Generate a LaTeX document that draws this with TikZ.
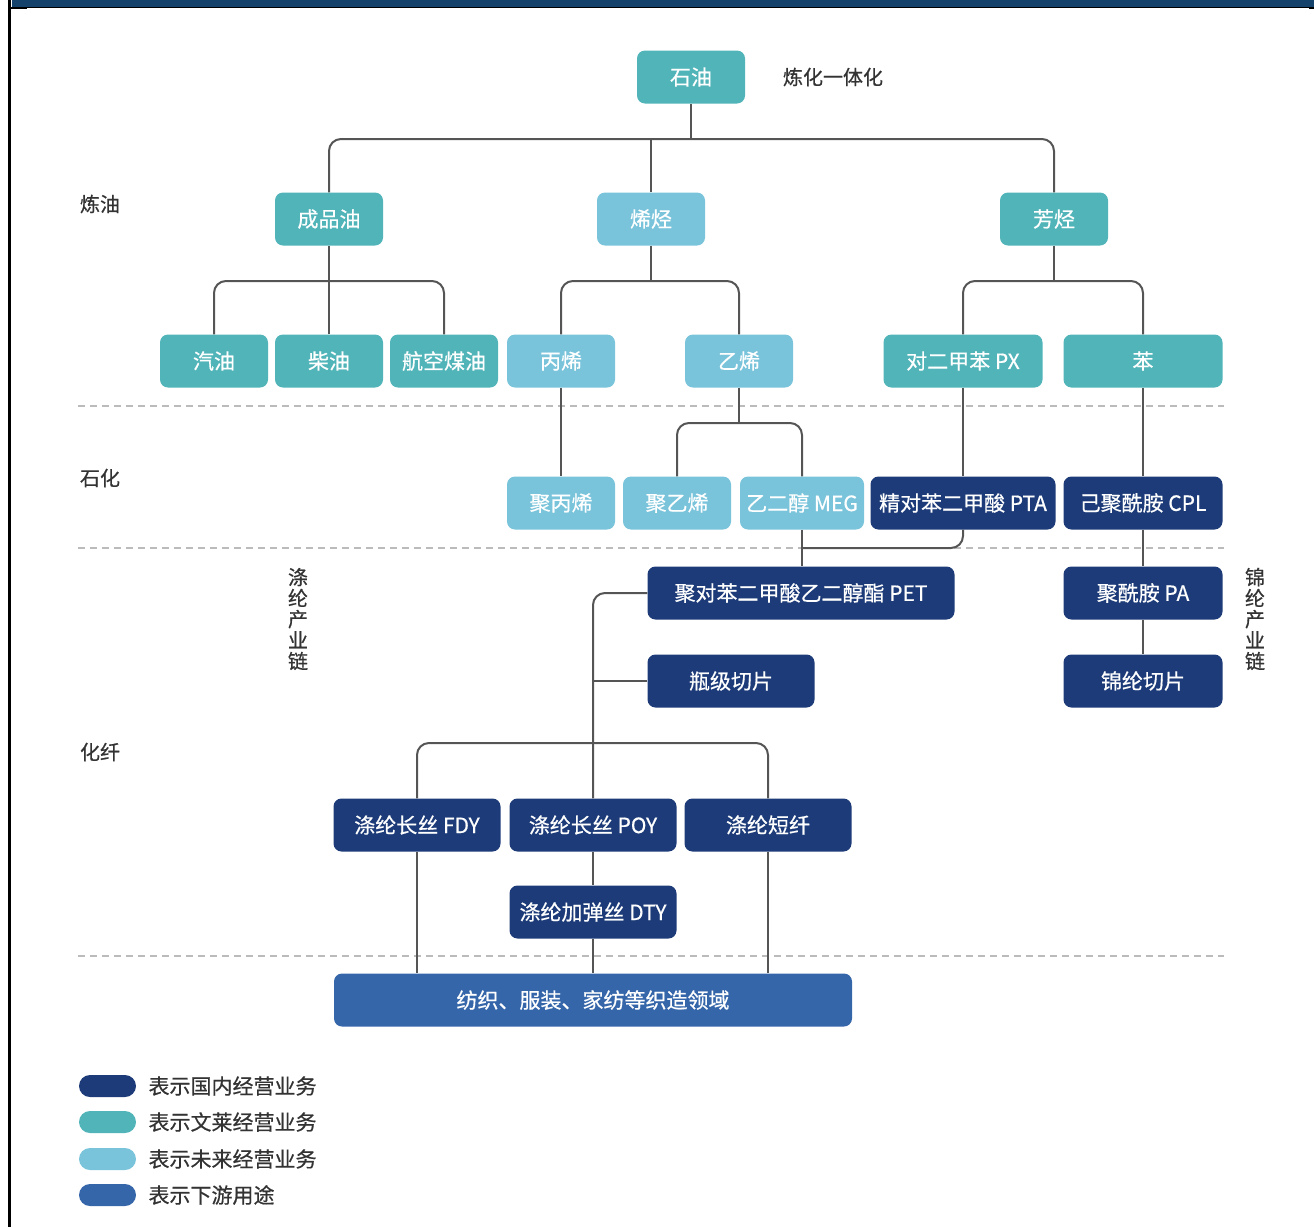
\documentclass[tikz,border=0pt]{standalone}
\usepackage{fontspec}
\setmainfont{Noto Sans CJK SC}
\newfontfamily\medfont[FakeBold=0.6]{Noto Sans CJK SC}

\definecolor{bandblue}{HTML}{15426B}
\definecolor{guonei}{HTML}{1C3B78}
\definecolor{wenlai}{HTML}{50B4B9}
\definecolor{weilai}{HTML}{7AC4DB}
\definecolor{xiayou}{HTML}{3566AA}
\definecolor{linegray}{HTML}{555555}
\definecolor{dashgray}{HTML}{BBBBBB}
\definecolor{labelgray}{HTML}{333333}

\tikzset{
  box/.style={rounded corners=8pt,text=white,minimum height=53pt,inner sep=0pt,font=\medfont\fontsize{21}{24}\selectfont},
  guoneibox/.style={box,fill=guonei},
  wenlaibox/.style={box,fill=wenlai},
  weilaibox/.style={box,fill=weilai},
  xiayoubox/.style={box,fill=xiayou},
  link/.style={draw=linegray,line width=2pt},
  bus/.style={link,rounded corners=12pt},
  sep/.style={draw=dashgray,line width=1.5pt,dash pattern=on 7pt off 5pt},
  lbl/.style={text=labelgray,font=\medfont\fontsize{20}{22}\selectfont},
  leg/.style={text=labelgray,font=\medfont\fontsize{21}{23}\selectfont},
  vlbl/.style={text=labelgray,font=\medfont\fontsize{20}{21}\selectfont,align=center},
  pill/.style={rounded corners=11pt,minimum width=57pt,minimum height=22pt,inner sep=0pt},
}

\begin{document}
\begin{tikzpicture}[x=1pt,y=-1pt]
\useasboundingbox (0,0) rectangle (1314,1227);

% frame
\fill[bandblue] (12,0) rectangle (1314,7);
\draw[black,line width=1.5pt] (10,7.5) -- (1314,7.5);
\fill[black] (8,0) rectangle (11,1227);
\fill[black] (10,7) rectangle (27,9);
\fill[black] (1309,7) rectangle (1314,9);

% section separators
\draw[sep] (78,406) -- (1224,406);
\draw[sep] (78,548) -- (1224,548);
\draw[sep] (78,956) -- (1224,956);

% side labels
\node[lbl] (lianyou) at (100,204) {炼油};
\node[lbl] (shihua) at (100,478) {石化};
\node[lbl] (huaxian) at (100,752) {化纤};
\node[lbl] (yitihua) at (833,77) {炼化一体化};
\node[vlbl] (dilunlian) at (298,619) {涤\\纶\\产\\业\\链};
\node[vlbl] (jinlunlian) at (1255,619) {锦\\纶\\产\\业\\链};

% nodes
\node[wenlaibox,minimum width=108pt] (shiyou) at (691,77) {石油};
\node[wenlaibox,minimum width=108pt] (chengpin) at (329,219) {成品油};
\node[weilaibox,minimum width=108pt] (xiting) at (651,219) {烯烃};
\node[wenlaibox,minimum width=108pt] (fangting) at (1054,219) {芳烃};

\node[wenlaibox,minimum width=108pt] (qiyou) at (214,361) {汽油};
\node[wenlaibox,minimum width=108pt] (chaiyou) at (329,361) {柴油};
\node[wenlaibox,minimum width=108pt] (hangkong) at (444,361) {航空煤油};
\node[weilaibox,minimum width=108pt] (bingxi) at (561,361) {丙烯};
\node[weilaibox,minimum width=108pt] (yixi) at (739,361) {乙烯};
\node[wenlaibox,minimum width=159pt] (px) at (963,361) {对二甲苯 PX};
\node[wenlaibox,minimum width=159pt] (ben) at (1143,361) {苯};

\node[weilaibox,minimum width=108pt] (jubingxi) at (561,503) {聚丙烯};
\node[weilaibox,minimum width=108pt] (juyixi) at (677,503) {聚乙烯};
\node[weilaibox,minimum width=124pt] (meg) at (802,503) {乙二醇 MEG};
\node[guoneibox,minimum width=185pt] (pta) at (963,503) {精对苯二甲酸 PTA};
\node[guoneibox,minimum width=159pt] (cpl) at (1143,503) {己聚酰胺 CPL};

\node[guoneibox,minimum width=307pt] (pet) at (801,593) {聚对苯二甲酸乙二醇酯 PET};
\node[guoneibox,minimum width=159pt] (pa) at (1143,593) {聚酰胺 PA};
\node[guoneibox,minimum width=167pt] (pingji) at (731,681) {瓶级切片};
\node[guoneibox,minimum width=159pt] (jinlun) at (1143,681) {锦纶切片};

\node[guoneibox,minimum width=167pt] (fdy) at (417,825) {涤纶长丝 FDY};
\node[guoneibox,minimum width=167pt] (poy) at (593,825) {涤纶长丝 POY};
\node[guoneibox,minimum width=167pt] (duanxian) at (768,825) {涤纶短纤};
\node[guoneibox,minimum width=167pt] (dty) at (593,912) {涤纶加弹丝 DTY};
\node[xiayoubox,minimum width=518pt] (fangzhi) at (593,1000) {纺织、服装、家纺等织造领域};

% junctions
\coordinate (b1) at (691,139);
\coordinate (b2) at (329,281);
\coordinate (b3) at (651,281);
\coordinate (b4) at (1054,281);
\coordinate (b5) at (739,423);
\coordinate (b6) at (802,548);
\coordinate (b7) at (593,743);

% connectors
\draw[link] (shiyou) -- (b1);
\draw[bus] (chengpin.north) |- (b1) -| (fangting.north);
\draw[link] (xiting.north) -- (xiting.north |- b1);

\draw[link] (chengpin) -- (b2);
\draw[bus] (qiyou.north) |- (b2) -| (hangkong.north);
\draw[link] (chaiyou.north) -- (b2);

\draw[link] (xiting) -- (b3);
\draw[bus] (bingxi.north) |- (b3) -| (yixi.north);

\draw[link] (fangting) -- (b4);
\draw[bus] (px.north) |- (b4) -| (ben.north);

\draw[link] (bingxi) -- (jubingxi);
\draw[link] (yixi) -- (b5);
\draw[bus] (juyixi.north) |- (b5) -| (meg.north);
\draw[link] (px) -- (pta);
\draw[link] (ben) -- (cpl);

\draw[link] (meg.south) -- (meg.south |- pet.north);
\draw[bus] (pta.south) |- (b6);
\draw[link] (cpl) -- (pa);
\draw[link] (pa) -- (jinlun);

\draw[bus] (pet.west) -| (poy.north);
\draw[link] (pingji.west) -- (pingji.west -| poy.north);
\draw[bus] (fdy.north) |- (b7) -| (duanxian.north);

\draw[link] (fdy.south) -- (fdy.south |- fangzhi.north);
\draw[link] (poy) -- (dty);
\draw[link] (dty.south) -- (dty.south |- fangzhi.north);
\draw[link] (duanxian.south) -- (duanxian.south |- fangzhi.north);

% legend
\node[pill,fill=guonei] (lg1) at (107.5,1086) {};
\node[pill,fill=wenlai] (lg2) at (107.5,1122) {};
\node[pill,fill=weilai] (lg3) at (107.5,1159) {};
\node[pill,fill=xiayou] (lg4) at (107.5,1195) {};
\node[leg,anchor=west] (lt1) at (145,1086) {表示国内经营业务};
\node[leg,anchor=west] (lt2) at (145,1122) {表示文莱经营业务};
\node[leg,anchor=west] (lt3) at (145,1159) {表示未来经营业务};
\node[leg,anchor=west] (lt4) at (145,1195) {表示下游用途};
\end{tikzpicture}
\end{document}
